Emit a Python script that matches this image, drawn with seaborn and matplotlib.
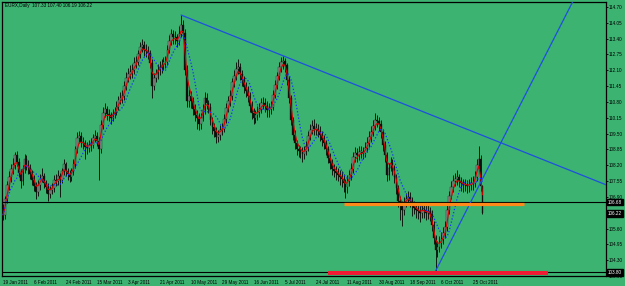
import numpy as np
import pandas as pd
import matplotlib
matplotlib.use("Agg")
import matplotlib.pyplot as plt
import matplotlib.transforms as mtrans
from matplotlib import font_manager
import seaborn as sns

title = "EURX,Daily  107.33 107.40 106.19 106.22"

opens = [
106.40,106.15,106.80,107.40,107.70,108.05,108.20,108.60,108.35,107.90,
107.55,108.05,108.45,108.20,108.10,107.85,107.60,107.35,107.10,107.40,
107.65,107.75,107.45,107.30,107.00,107.20,107.25,107.60,107.55,107.75,
107.60,107.95,108.25,107.95,107.85,107.70,107.95,108.25,108.85,109.30,
109.40,109.15,109.10,108.95,108.90,109.05,109.05,109.30,109.40,109.20,
108.85,109.85,110.35,110.50,110.30,110.25,110.15,110.30,110.40,110.60,
110.90,110.95,111.05,111.45,111.80,111.95,112.05,112.10,112.40,112.45,
112.75,113.05,113.15,112.95,112.90,112.80,112.40,111.45,111.80,111.95,
112.10,112.25,112.30,112.45,112.45,112.95,113.30,113.60,113.45,113.45,
113.30,113.60,113.95,113.65,112.10,110.85,111.05,110.85,110.50,110.25,
110.15,109.90,110.15,110.45,110.95,110.75,110.60,110.05,109.75,109.60,
109.35,109.45,109.65,109.70,110.10,110.55,110.85,111.05,111.60,111.85,
112.15,112.25,111.95,111.70,111.40,111.25,111.05,110.65,110.35,110.15,
110.25,110.40,110.50,110.75,110.75,110.65,110.45,110.50,110.60,111.10,
111.50,111.85,112.25,112.45,112.50,112.30,111.70,110.95,110.05,109.45,
109.10,108.85,108.80,108.75,108.65,108.80,108.95,109.40,109.65,109.80,
109.70,109.70,109.60,109.45,109.25,109.10,108.85,108.50,108.30,108.05,
107.95,107.90,107.80,107.70,107.65,107.45,107.30,107.55,107.80,108.05,
108.55,108.70,108.60,108.75,108.75,108.70,108.90,109.10,109.35,109.55,
109.80,110.05,110.00,109.90,109.55,109.05,108.60,107.80,108.10,108.30,
108.05,107.70,107.25,106.75,106.55,106.35,106.70,106.80,106.90,106.75,
106.55,106.45,106.35,106.30,106.25,106.35,106.35,106.25,106.30,106.20,
105.75,105.20,104.70,104.85,105.00,105.15,105.40,105.65,106.35,106.95,
107.30,107.55,107.65,107.70,107.55,107.45,107.40,107.40,107.35,107.40,
107.45,107.45,107.70,108.20,108.45,107.33]

highs = [
106.60,106.95,107.55,107.95,108.25,108.50,108.75,108.80,108.50,108.05,
108.20,108.65,108.60,108.40,108.25,108.00,107.80,107.50,107.60,107.85,
108.10,107.90,107.60,107.45,107.35,107.45,107.80,107.85,108.00,107.90,
108.10,108.45,108.35,108.10,108.00,108.10,108.45,109.00,109.55,109.60,
109.55,109.35,109.25,109.15,109.25,109.30,109.50,109.65,109.55,109.35,
110.05,110.60,110.75,110.65,110.50,110.40,110.50,110.60,110.85,111.05,
111.20,111.30,111.65,112.05,112.20,112.30,112.35,112.65,112.70,112.95,
113.25,113.40,113.30,113.20,113.10,112.95,112.55,112.00,112.15,112.35,
112.50,112.55,112.65,112.70,113.15,113.55,113.80,113.75,113.70,113.60,
113.90,114.37,114.15,113.80,112.30,111.35,111.25,111.00,110.70,110.45,
110.35,110.35,110.70,111.20,111.15,110.90,110.75,110.20,109.95,109.75,
109.65,109.85,109.95,110.30,110.75,111.05,111.30,111.80,112.10,112.45,
112.55,112.40,112.10,111.85,111.60,111.45,111.20,110.85,110.55,110.45,
110.65,110.75,110.95,111.00,110.95,110.85,110.75,110.85,111.30,111.70,
112.05,112.45,112.65,112.70,112.60,112.40,111.85,111.10,110.20,109.65,
109.25,109.05,109.00,108.95,109.00,109.20,109.60,109.90,110.05,110.10,
109.95,109.90,109.80,109.60,109.45,109.25,109.00,108.70,108.45,108.25,
108.15,108.10,108.00,107.95,107.85,107.65,107.80,108.00,108.30,108.75,
108.95,108.90,109.00,109.00,108.95,109.15,109.35,109.60,109.80,110.05,
110.35,110.25,110.20,110.05,109.70,109.20,108.75,108.30,108.55,108.45,
108.20,107.85,107.40,106.95,106.75,106.90,107.05,107.15,107.10,106.90,
106.75,106.65,106.60,106.55,106.60,106.65,106.55,106.60,106.50,106.35,
105.90,105.35,105.10,105.30,105.45,105.65,105.90,106.55,107.15,107.55,
107.80,107.90,108.00,107.85,107.70,107.65,107.65,107.60,107.65,107.70,
107.75,107.95,108.45,109.00,108.60,107.40]

lows = [
105.95,106.00,106.65,107.20,107.50,107.85,108.05,108.15,107.70,107.25,
107.40,107.90,108.00,107.85,107.65,107.40,107.15,106.80,106.95,107.20,
107.50,107.25,107.05,106.75,106.85,107.00,107.10,107.35,107.40,106.90,
107.45,107.80,107.75,107.60,107.50,107.55,107.80,108.10,108.70,109.10,
108.95,108.85,108.45,108.65,108.75,108.80,108.90,109.15,109.00,107.60,
108.70,109.70,110.20,110.05,110.00,109.90,110.00,110.15,110.25,110.45,
110.70,110.75,110.90,111.30,111.60,111.75,111.80,111.95,112.20,112.30,
112.60,112.85,112.70,112.65,112.55,112.20,110.95,111.30,111.60,111.75,
111.90,112.00,112.10,112.20,112.30,112.80,113.15,113.20,113.20,113.05,
113.15,113.45,113.40,111.90,110.60,110.60,110.55,110.25,110.00,109.70,
109.65,109.70,110.00,110.30,110.50,110.35,109.85,109.50,109.35,109.10,
109.15,109.25,109.45,109.55,109.95,110.40,110.65,110.90,111.40,111.70,
111.95,111.70,111.45,111.15,111.00,110.80,110.40,110.10,109.90,109.95,
110.05,110.20,110.35,110.50,110.40,110.20,110.20,110.30,110.45,110.95,
111.35,111.70,112.05,112.15,112.05,111.50,110.75,109.85,109.25,108.85,
108.60,108.55,108.50,108.35,108.45,108.60,108.80,109.25,109.50,109.45,
109.45,109.35,109.20,109.00,108.85,108.60,108.30,108.05,107.80,107.70,
107.60,107.55,107.40,107.30,107.10,106.85,107.05,107.35,107.60,107.90,
108.35,108.35,108.40,108.50,108.45,108.55,108.75,108.95,109.15,109.40,
109.65,109.75,109.60,109.30,108.80,108.35,107.55,107.60,107.95,107.80,
107.45,107.00,106.50,105.95,105.70,106.15,106.50,106.60,106.50,106.10,
106.20,106.05,106.00,105.85,106.05,106.05,105.95,106.00,105.90,105.50,
104.95,103.85,104.45,104.65,104.80,104.95,105.20,105.50,106.20,106.80,
107.10,107.35,107.40,107.30,107.15,107.10,107.15,107.05,107.10,107.20,
107.20,107.30,107.55,108.05,107.15,106.19]

closes = [
106.15,106.80,107.40,107.70,108.05,108.20,108.60,108.35,107.90,107.55,
108.05,108.45,108.20,108.10,107.85,107.60,107.35,107.10,107.40,107.65,
107.75,107.45,107.30,107.00,107.20,107.25,107.60,107.55,107.75,107.60,
107.95,108.25,107.95,107.85,107.70,107.95,108.25,108.85,109.30,109.40,
109.15,109.10,108.95,108.90,109.05,109.05,109.30,109.40,109.20,108.85,
109.85,110.35,110.50,110.30,110.25,110.15,110.30,110.40,110.60,110.90,
110.95,111.05,111.45,111.80,111.95,112.05,112.10,112.40,112.45,112.75,
113.05,113.15,112.95,112.90,112.80,112.40,111.45,111.80,111.95,112.10,
112.25,112.30,112.45,112.45,112.95,113.30,113.60,113.45,113.45,113.30,
113.60,113.95,113.65,112.10,110.85,111.05,110.85,110.50,110.25,110.15,
109.90,110.15,110.45,110.95,110.75,110.60,110.05,109.75,109.60,109.35,
109.45,109.65,109.70,110.10,110.55,110.85,111.05,111.60,111.85,112.15,
112.25,111.95,111.70,111.40,111.25,111.05,110.65,110.35,110.15,110.25,
110.40,110.50,110.75,110.75,110.65,110.45,110.50,110.60,111.10,111.50,
111.85,112.25,112.45,112.50,112.30,111.70,110.95,110.05,109.45,109.10,
108.85,108.80,108.75,108.65,108.80,108.95,109.40,109.65,109.80,109.70,
109.70,109.60,109.45,109.25,109.10,108.85,108.50,108.30,108.05,107.95,
107.90,107.80,107.70,107.65,107.45,107.30,107.55,107.80,108.05,108.55,
108.70,108.60,108.75,108.75,108.70,108.90,109.10,109.35,109.55,109.80,
110.05,110.00,109.90,109.55,109.05,108.60,107.80,108.10,108.30,108.05,
107.70,107.25,106.75,106.55,106.35,106.70,106.80,106.90,106.75,106.55,
106.45,106.35,106.30,106.25,106.35,106.35,106.25,106.30,106.20,105.75,
105.20,104.70,104.85,105.00,105.15,105.40,105.65,106.35,106.95,107.30,
107.55,107.65,107.70,107.55,107.45,107.40,107.40,107.35,107.40,107.45,
107.45,107.70,108.20,108.45,107.33,106.22]

date_labels = ["19 Jan 2011", "6 Feb 2011", "24 Feb 2011", "15 Mar 2011",
               "3 Apr 2011", "21 Apr 2011", "10 May 2011", "29 May 2011",
               "16 Jun 2011", "5 Jul 2011", "24 Jul 2011", "11 Aug 2011",
               "30 Aug 2011", "18 Sep 2011", "6 Oct 2011", "25 Oct 2011"]
date_label_bars = [0, 16, 32, 48, 64, 80, 96, 112, 128, 144, 160, 176,
                   192, 208, 224, 240]

price_ticks = [114.70, 114.05, 113.40, 112.75, 112.10, 111.45, 110.80,
               110.15, 109.50, 108.85, 108.20, 107.55, 106.90, 106.25,
               105.60, 104.95, 104.30, 103.65]
marked_levels = [106.68, 106.22, 103.80]
hline_levels = [106.68, 103.80]

support_level = 106.60
support_span = [174, 266]
base_zone = [103.70, 103.85]
base_span = [166, 278.5]
resist_bars = [91, 143]
resist_prices = [114.37, 112.70]
rise_bars = [221, 245]
rise_prices = [103.85, 107.64]

fast_period = 3
slow_period = 8

# ---------------------------------------------------------------------------
W, H = 625, 286
BG = "#3cb371"
sns.set_style("white")
installed = {f.name for f in font_manager.fontManager.ttflist}
fams = [f for f in ["Liberation Sans Narrow", "Liberation Sans", "DejaVu Sans"] if f in installed]
plt.rcParams["font.family"] = fams
narrow = "Liberation Sans Narrow" in installed
FS = 3.9 if narrow else 3.3

df = pd.DataFrame({"bar": np.arange(len(closes)), "open": opens, "high": highs,
                   "low": lows, "close": closes})
df["fast"] = df["close"].ewm(span=fast_period, adjust=False).mean()
df["slow"] = df["close"].rolling(slow_period, min_periods=1).mean()

fig = plt.figure(figsize=(W / 100, H / 100), dpi=100, facecolor=BG)
ax = fig.add_axes([2 / W, 10 / H, 604 / W, 274 / H], facecolor=BG)
xmin, xmax = -0.5, 308.1
ax.set_xlim(xmin, xmax)
ax.set_ylim(103.65, 114.905)

# candles
up = df["close"] >= df["open"]
ax.vlines(df["bar"], df["low"], df["high"], color="#0d1a10", lw=0.7, zorder=2)
body = (df["close"] - df["open"]).abs().clip(lower=0.02)
ax.bar(df["bar"], body, bottom=np.minimum(df["open"], df["close"]), width=0.9,
       color=np.where(up, "#858a86", "#0d0d0d"), edgecolor="#0d1a10", lw=0.25, zorder=3)

# moving averages
sns.lineplot(data=df, x="bar", y="fast", color="#e00000", lw=0.8, ax=ax, zorder=4)
sns.lineplot(data=df, x="bar", y="slow", color="#1530ff", lw=0.9, ax=ax, zorder=4,
             linestyle=(0, (1, 1.6)))

# horizontal levels
for lv in hline_levels:
    ax.axhline(lv, color="black", lw=0.8, zorder=5)
ax.hlines(support_level, support_span[0], support_span[1], color="#ff8a1a", lw=2.3, zorder=6)
ax.fill_between(base_span, base_zone[0], base_zone[1], color="#f01c34", lw=0, zorder=6)

# trend lines (rays)
def ray(bars, prices):
    slope = (prices[1] - prices[0]) / (bars[1] - bars[0])
    xs = [bars[0], xmax]
    ys = [prices[0], prices[0] + slope * (xmax - bars[0])]
    ax.plot(xs, ys, color="#1f4fe0", lw=0.9, zorder=5)

ray(resist_bars, resist_prices)
ray(rise_bars, rise_prices)

# axes styling
for s in ax.spines.values():
    s.set_color("black")
    s.set_linewidth(0.9)
ax.set_xlabel("")
ax.set_ylabel("")
ax.yaxis.tick_right()
ax.set_yticks(price_ticks)
ax.set_yticklabels([f"{p:.2f}" for p in price_ticks])
ax.set_xticks(date_label_bars)
ax.set_xticklabels(date_labels, ha="left")
ax.tick_params(axis="y", direction="out", length=1.5, width=0.6, pad=0.6,
               labelsize=FS, colors="black", right=True, left=False)
ax.tick_params(axis="x", direction="out", length=2, width=0.6, pad=0.8,
               labelsize=FS, colors="black")
ax.grid(False)

trans = mtrans.blended_transform_factory(ax.transAxes, ax.transData)
for lv in marked_levels:
    ax.text(1.0 + 2 / 604, lv, f"{lv:.2f}", transform=trans, ha="left", va="center",
            fontsize=FS, color="white", zorder=10, clip_on=False,
            bbox=dict(boxstyle="square,pad=0.15", fc="black", ec="black"))

ax.text(3 / 604, 1 - 4 / 274, title, transform=ax.transAxes, ha="left", va="center",
        fontsize=FS, color="black", zorder=10)

fig.savefig("out.png", dpi=100, facecolor=BG)
